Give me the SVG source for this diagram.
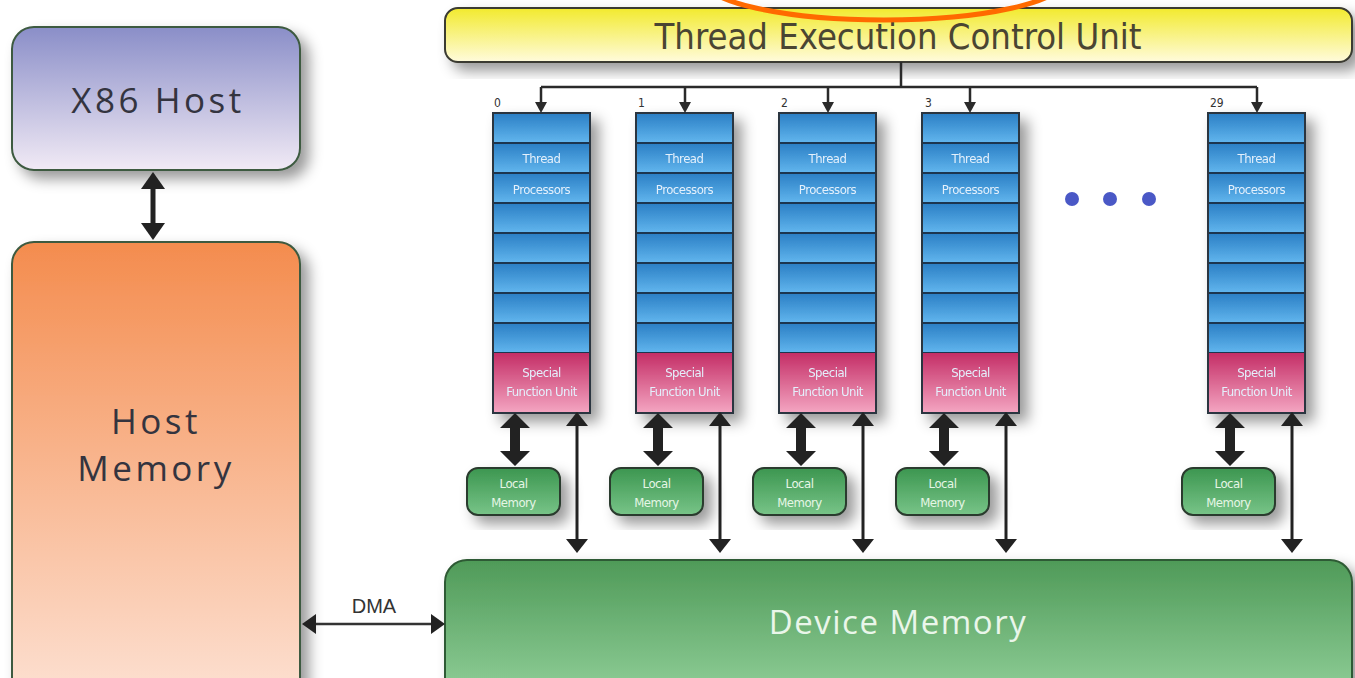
<svg xmlns="http://www.w3.org/2000/svg" width="1355" height="678" viewBox="0 0 1355 678">
<defs>
<linearGradient id="gYel" x1="0" y1="0" x2="0" y2="1"><stop offset="0" stop-color="#f2ea2e"/><stop offset="1" stop-color="#fffbdc"/></linearGradient>
<linearGradient id="gHost" x1="0" y1="0" x2="0" y2="1"><stop offset="0" stop-color="#8a8ec8"/><stop offset="1" stop-color="#f1eaf5"/></linearGradient>
<linearGradient id="gMem" x1="0" y1="0" x2="0" y2="1"><stop offset="0" stop-color="#f48c4e"/><stop offset="1" stop-color="#fde3d6"/></linearGradient>
<linearGradient id="gDev" x1="0" y1="0" x2="0" y2="1"><stop offset="0" stop-color="#4f9a58"/><stop offset="1" stop-color="#92d09a"/></linearGradient>
<linearGradient id="gLoc" x1="0" y1="0" x2="0" y2="1"><stop offset="0" stop-color="#3c9650"/><stop offset="1" stop-color="#78c488"/></linearGradient>
<linearGradient id="gBlue" x1="0" y1="0" x2="0" y2="1"><stop offset="0" stop-color="#2a7ec4"/><stop offset="1" stop-color="#62b6ee"/></linearGradient>
<linearGradient id="gSfu" x1="0" y1="0" x2="0" y2="1"><stop offset="0" stop-color="#c42e66"/><stop offset="1" stop-color="#f4a6c2"/></linearGradient>
<filter id="sh" x="-20%" y="-20%" width="150%" height="150%"><feDropShadow dx="8" dy="8" stdDeviation="7" flood-color="#000" flood-opacity="0.4"/></filter>
<g id="col">
<rect x="0" y="0" width="97" height="240" fill="#2f86c8"/>
<rect x="0" y="0" width="97" height="30" fill="url(#gBlue)"/><rect x="0" y="30" width="97" height="30" fill="url(#gBlue)"/>
<rect x="0" y="60" width="97" height="30" fill="url(#gBlue)"/><rect x="0" y="90" width="97" height="30" fill="url(#gBlue)"/>
<rect x="0" y="120" width="97" height="30" fill="url(#gBlue)"/><rect x="0" y="150" width="97" height="30" fill="url(#gBlue)"/>
<rect x="0" y="180" width="97" height="30" fill="url(#gBlue)"/><rect x="0" y="210" width="97" height="30" fill="url(#gBlue)"/>
<path d="M0 30H97M0 60H97M0 90H97M0 120H97M0 150H97M0 180H97M0 210H97M0 240H97" stroke="#1c3550" stroke-width="2"/>
<rect x="0" y="240" width="97" height="60" fill="url(#gSfu)"/>
<rect x="0" y="0" width="97" height="300" fill="none" stroke="#2c3440" stroke-width="2"/>
<text class="tp" x="48.5" y="50">Thread</text>
<text class="tp" x="48.5" y="81">Processors</text>
<text class="tp" x="48.5" y="264">Special</text>
<text class="tp" x="48.5" y="283">Function Unit</text>
</g>
<g id="below">
<polygon points="22,2 37,17 27,17 27,40 37,40 22,55 7,40 17,40 17,17 7,17" fill="#222"/>
<rect x="-26" y="57" width="93" height="47" rx="11" fill="url(#gLoc)" stroke="#2b3b2e" stroke-width="2" filter="url(#sh)"/>
<text class="lm" x="20.5" y="77">Local</text>
<text class="lm" x="20.5" y="96">Memory</text>
<line x1="84" y1="12" x2="84" y2="130" stroke="#222" stroke-width="3"/>
<polygon points="84,1 95,15 73,15" fill="#222"/>
<polygon points="84,142 95,128 73,128" fill="#222"/>
</g>
</defs>
<style>
.tp{font-family:"DejaVu Sans Condensed","Liberation Sans Narrow","Liberation Sans",sans-serif;font-size:13px;fill:#e4f0fc;text-anchor:middle;letter-spacing:-0.5px}
.lm{font-family:"DejaVu Sans Condensed","Liberation Sans",sans-serif;font-size:13px;fill:#e6f6e6;text-anchor:middle;letter-spacing:-0.5px}
.big{font-family:"Open Sans","DejaVu Sans",sans-serif;font-size:35px;fill:#34343f;text-anchor:middle;letter-spacing:3.5px}
.num{font-family:"DejaVu Sans Condensed","Liberation Sans",sans-serif;font-size:12px;fill:#333}
.conn{stroke:#2a2a2a;fill:none;stroke-width:2.5}
</style>
<rect width="1355" height="678" fill="#ffffff"/>

<g id="x86host">
<rect x="12" y="27" width="288" height="143" rx="22" fill="url(#gHost)" stroke="#3d5a40" stroke-width="2" filter="url(#sh)"/>
<text class="big" x="158" y="113">X86 Host</text>
</g>

<g id="hostmemory">
<rect x="12" y="242" width="288" height="470" rx="22" fill="url(#gMem)" stroke="#3d5a40" stroke-width="2" filter="url(#sh)"/>
<text class="big" x="156" y="434">Host</text>
<text class="big" x="156" y="481">Memory</text>
</g>

<g id="tecu">
<rect x="445" y="8" width="907" height="54" rx="13" fill="url(#gYel)" stroke="#3a3a30" stroke-width="2" filter="url(#sh)"/>
<text x="898" y="49" font-family="DejaVu Sans Condensed,Liberation Sans,sans-serif" font-size="35" fill="#4a4532" text-anchor="middle" textLength="487" lengthAdjust="spacingAndGlyphs">Thread Execution Control Unit</text>
</g>

<g id="devicememory">
<rect x="445" y="560" width="907" height="140" rx="22" fill="url(#gDev)" stroke="#2f5a34" stroke-width="2" filter="url(#sh)"/>
<text x="898" y="634" font-family="Open Sans,DejaVu Sans,sans-serif" font-size="33" fill="#eaf6ea" text-anchor="middle" letter-spacing="1.5">Device Memory</text>
</g>

<g id="processors">
<g id="col0" filter="url(#sh)"><use href="#col" x="493" y="113"/></g>
<g id="col1" filter="url(#sh)"><use href="#col" x="636" y="113"/></g>
<g id="col2" filter="url(#sh)"><use href="#col" x="779" y="113"/></g>
<g id="col3" filter="url(#sh)"><use href="#col" x="922" y="113"/></g>
<g id="col29" filter="url(#sh)"><use href="#col" x="1208" y="113"/></g>
<text class="num" x="494" y="107">0</text>
<text class="num" x="638" y="107">1</text>
<text class="num" x="781" y="107">2</text>
<text class="num" x="925" y="107">3</text>
<text class="num" x="1210" y="107">29</text>
</g>

<g id="localmemories">
<use href="#below" x="493" y="411"/>
<use href="#below" x="636" y="411"/>
<use href="#below" x="779" y="411"/>
<use href="#below" x="922" y="411"/>
<use href="#below" x="1208" y="411"/>
</g>

<g id="dots" fill="#4a58c6">
<circle cx="1072" cy="199" r="7"/>
<circle cx="1110" cy="199" r="7"/>
<circle cx="1149" cy="199" r="7"/>
</g>

<g id="connectors">
<path class="conn" d="M901 62V87M541 87H1257M541 87V104M685 87V104M828 87V104M970 87V104M1257 87V104"/>
<g fill="#2a2a2a">
<polygon points="541,113 535,102 547,102"/>
<polygon points="685,113 679,102 691,102"/>
<polygon points="828,113 822,102 834,102"/>
<polygon points="970,113 964,102 976,102"/>
<polygon points="1257,113 1251,102 1263,102"/>
</g>
<line x1="153" y1="186" x2="153" y2="226" stroke="#222" stroke-width="5"/>
<polygon points="153,172 165,189 141,189" fill="#222"/>
<polygon points="153,240 165,223 141,223" fill="#222"/>
<line x1="314" y1="624" x2="432" y2="624" stroke="#333" stroke-width="2.5"/>
<polygon points="302,624 316,614 316,634" fill="#222"/>
<polygon points="445,624 431,614 431,634" fill="#222"/>
<text x="374" y="613" font-family="Liberation Sans,Arial,sans-serif" font-size="20" fill="#333" text-anchor="middle">DMA</text>
</g>

<ellipse cx="884" cy="-20" rx="180" ry="40" fill="none" stroke="#ff6a00" stroke-width="5"/>
</svg>
